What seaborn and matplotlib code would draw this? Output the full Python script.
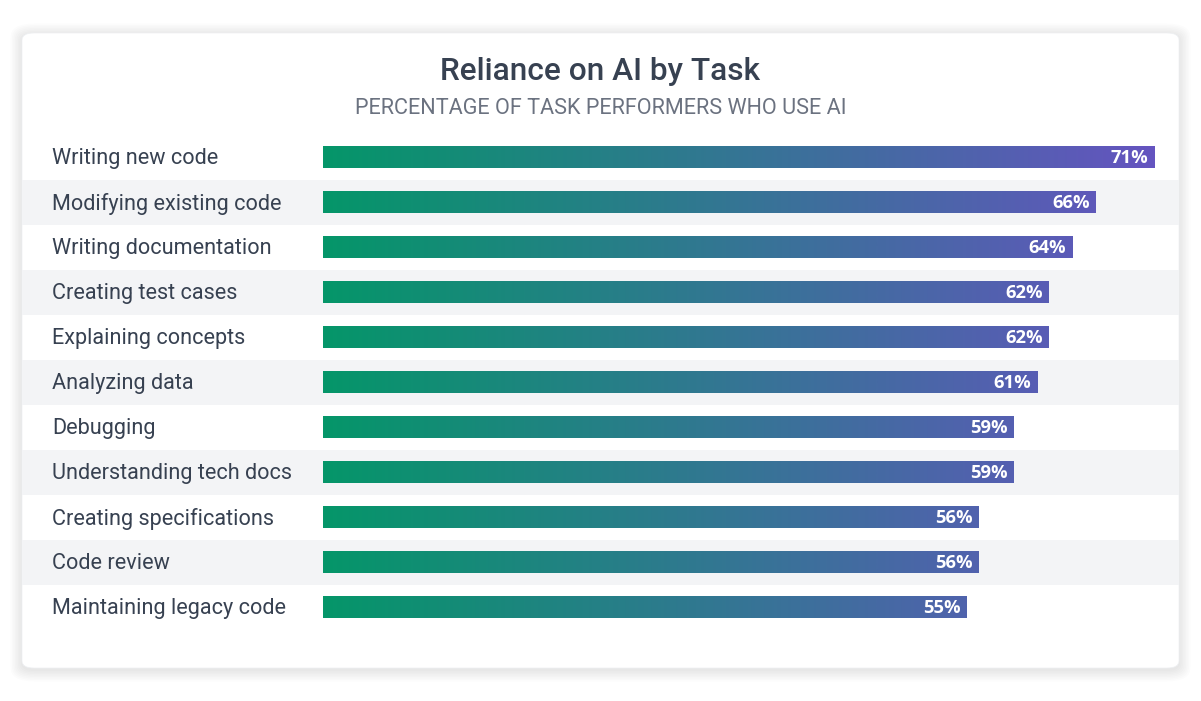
import numpy as np
import matplotlib
matplotlib.use('Agg')
import matplotlib.pyplot as plt
import seaborn as sns
from matplotlib.patches import FancyBboxPatch, Rectangle
from matplotlib.colors import LinearSegmentedColormap
from matplotlib.transforms import blended_transform_factory

# ── Data ──────────────────────────────────────────────────────────────────────
TASKS = ['Writing new code', 'Modifying existing code', 'Writing documentation',
         'Creating test cases', 'Explaining concepts', 'Analyzing data',
         'Debugging', 'Understanding tech docs', 'Creating specifications',
         'Code review', 'Maintaining legacy code']
SHARE = [71, 66, 64, 62, 62, 61, 59, 59, 56, 56, 55]

TITLE    = 'Reliance on AI by Task'
SUBTITLE = 'PERCENTAGE OF TASK PERFORMERS WHO USE AI'

# ── Style ─────────────────────────────────────────────────────────────────────
sns.set_style('white')
plt.rcParams['font.family'] = ['Roboto', 'DejaVu Sans']

W, H = 1201, 701
GREEN, PURPLE = '#059669', '#6554c0'
TEXT_DARK, TEXT_GREY = '#374151', '#6b7280'
BAND = '#f3f4f6'

fig = plt.figure(figsize=(W / 100, H / 100), dpi=100)
fig.patch.set_facecolor('white')

def px(x, y):
    # pixel (from top-left) -> figure fraction
    return x / W, 1 - y / H

# ── Card with soft shadow ─────────────────────────────────────────────────────
cx0, cy0, cx1, cy1 = 22, 33, 1179, 668
for i in range(8):
    g = 1 + i * 1.5
    sh = FancyBboxPatch(((cx0 - g) / W, 1 - (cy1 + g + 2) / H),
                        (cx1 - cx0 + 2 * g) / W, (cy1 - cy0 + 2 * g) / H,
                        boxstyle=f'round,pad=0,rounding_size={(12 + g) / W}',
                        transform=fig.transFigure, facecolor='#1f2937',
                        edgecolor='none', alpha=0.012, zorder=-12)
    fig.patches.append(sh)
card = FancyBboxPatch((cx0 / W, 1 - cy1 / H), (cx1 - cx0) / W, (cy1 - cy0) / H,
                      boxstyle=f'round,pad=0,rounding_size={12 / W}',
                      transform=fig.transFigure, facecolor='white',
                      edgecolor='#eef0f3', linewidth=0.5, zorder=-10)
fig.patches.append(card)

# ── Titles ────────────────────────────────────────────────────────────────────
fig.text(*px(600.5, 71), TITLE, ha='center', va='center', fontsize=22.8,
         fontweight='medium', color=TEXT_DARK)
fig.text(*px(600.5, 109), SUBTITLE, ha='center', va='center', fontsize=15.6,
         color=TEXT_GREY)

# ── Axes: rows 45 px apart, first row centred at y=157 ───────────────────────
row_top, row_bot = 157 - 22.5, 607 + 22.5
ax_l, ax_r = 323, 1166
XMAX = 72
ax = fig.add_axes([ax_l / W, 1 - row_bot / H, (ax_r - ax_l) / W, (row_bot - row_top) / H])
ax.patch.set_alpha(0)

sns.barplot(x=SHARE, y=TASKS, orient='h', color=GREEN, width=22 / 45,
            ax=ax, zorder=3)
ax.axis('off')

# alternating full-width bands
bt = blended_transform_factory(fig.transFigure, ax.transData)
for i in range(1, len(TASKS), 2):
    ax.add_patch(Rectangle((cx0 / W, i - 0.5), (cx1 - cx0) / W, 1,
                           transform=bt, facecolor=BAND, edgecolor='none',
                           clip_on=False, zorder=0))

# ── Gradient fill (shared across the whole scale) ─────────────────────────────
cmap = LinearSegmentedColormap.from_list('gp', [GREEN, PURPLE])
grad = np.linspace(0, 1, 512).reshape(1, -1)
for bar in ax.patches:
    if bar.get_zorder() == 0:
        continue
    bar.set_facecolor('none')
    bar.set_edgecolor('none')
    im = ax.imshow(grad, cmap=cmap, aspect='auto',
                   extent=[0, max(SHARE), -0.5, len(TASKS) - 0.5],
                   zorder=3, interpolation='bilinear')
    im.set_clip_path(bar)
ax.set_xlim(0, XMAX)
ax.set_ylim(len(TASKS) - 0.5, -0.5)

# ── Labels ────────────────────────────────────────────────────────────────────
for i, (task, v) in enumerate(zip(TASKS, SHARE)):
    ax.annotate(task, (52 / W, i), xycoords=bt, xytext=(0, -1.2),
                textcoords='offset points', ha='left', va='center',
                fontsize=15.6, color=TEXT_DARK, annotation_clip=False)
    ax.annotate(f'{v}%', (v, i), xytext=(-4.2, -0.5), textcoords='offset points',
                ha='right', va='center', fontsize=13.2, fontweight='bold',
                color='white', family=['Open Sans', 'DejaVu Sans'], zorder=5)

fig.savefig('out.png', dpi=100, facecolor='white')
